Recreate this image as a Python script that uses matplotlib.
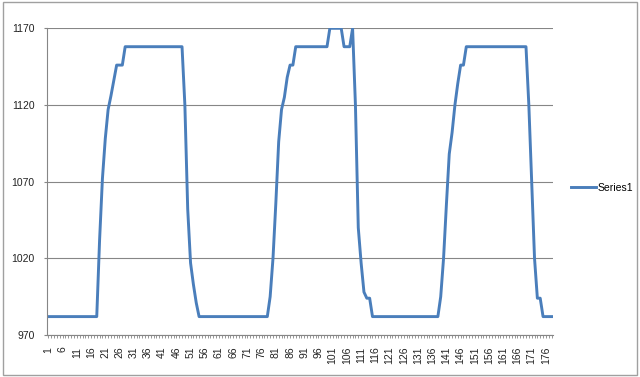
import matplotlib.pyplot as plt
import matplotlib as mpl
from matplotlib.patches import Rectangle
from matplotlib.ticker import MultipleLocator

mpl.rcParams['font.family'] = ['Liberation Sans', 'DejaVu Sans']
mpl.rcParams['font.size'] = 7.5

# values, one per category (1..178)
series1 = [
    982, 982, 982, 982, 982, 982, 982, 982, 982, 982,
    982, 982, 982, 982, 982, 982, 982, 982, 1032, 1072,
    1098, 1117, 1126, 1136, 1146, 1146, 1146, 1158, 1158, 1158,
    1158, 1158, 1158, 1158, 1158, 1158, 1158, 1158, 1158, 1158,
    1158, 1158, 1158, 1158, 1158, 1158, 1158, 1158, 1120, 1052,
    1017, 1003, 991, 982, 982, 982, 982, 982, 982, 982,
    982, 982, 982, 982, 982, 982, 982, 982, 982, 982,
    982, 982, 982, 982, 982, 982, 982, 982, 995, 1020,
    1056, 1096, 1117, 1125, 1138, 1146, 1146, 1158, 1158, 1158,
    1158, 1158, 1158, 1158, 1158, 1158, 1158, 1158, 1158, 1170,
    1170, 1170, 1170, 1170, 1158, 1158, 1158, 1170, 1120, 1040,
    1017, 998, 994, 994, 982, 982, 982, 982, 982, 982,
    982, 982, 982, 982, 982, 982, 982, 982, 982, 982,
    982, 982, 982, 982, 982, 982, 982, 982, 995, 1020,
    1055, 1088, 1102, 1120, 1134, 1146, 1146, 1158, 1158, 1158,
    1158, 1158, 1158, 1158, 1158, 1158, 1158, 1158, 1158, 1158,
    1158, 1158, 1158, 1158, 1158, 1158, 1158, 1158, 1158, 1120,
    1070, 1020, 994, 994, 982, 982, 982, 982,
]
categories = list(range(1, len(series1) + 1))
x_labels = [str(c) for c in categories[::5]]
y_ticks = [970, 1020, 1070, 1120, 1170]

grey = '#868686'

fig = plt.figure(figsize=(6.4, 3.77), dpi=100)
fig.patches.append(Rectangle((0.004, 0.004), 0.992, 0.99, transform=fig.transFigure,
                             fill=False, edgecolor='#a0a0a0', linewidth=1))
ax = fig.add_axes([47 / 640, 1 - 335 / 377, 506 / 640, (335 - 28.3) / 377])

ax.plot(categories, series1, color='#4a7ebb', linewidth=2.1, label='Series1',
        solid_joinstyle='round')

ax.set_xlim(0.5, len(series1) + 0.5)
ax.set_ylim(970, 1170)
ax.set_yticks(y_ticks)
ax.set_xticks(categories[::5])
ax.set_xticklabels(x_labels, rotation=90)
ax.xaxis.set_minor_locator(MultipleLocator(1))
ax.grid(axis='y', color=grey, linewidth=0.8)
ax.set_axisbelow(True)

for side in ['top', 'right']:
    ax.spines[side].set_visible(False)
for side in ['left', 'bottom']:
    ax.spines[side].set_color(grey)
    ax.spines[side].set_linewidth(0.8)

ax.tick_params(axis='x', which='both', length=2.4, width=0.6, color=grey, pad=6)
ax.tick_params(axis='y', length=2, width=0.8, color=grey, pad=7)
ax.tick_params(labelsize=7.5, labelcolor='#222222')

fig.legend(loc='center left', bbox_to_anchor=(566 / 640, 1 - 188 / 377),
           frameon=False, handlelength=2.4, handletextpad=0.1, borderpad=0,
           fontsize=7.5)

plt.savefig('out.png', dpi=100)
